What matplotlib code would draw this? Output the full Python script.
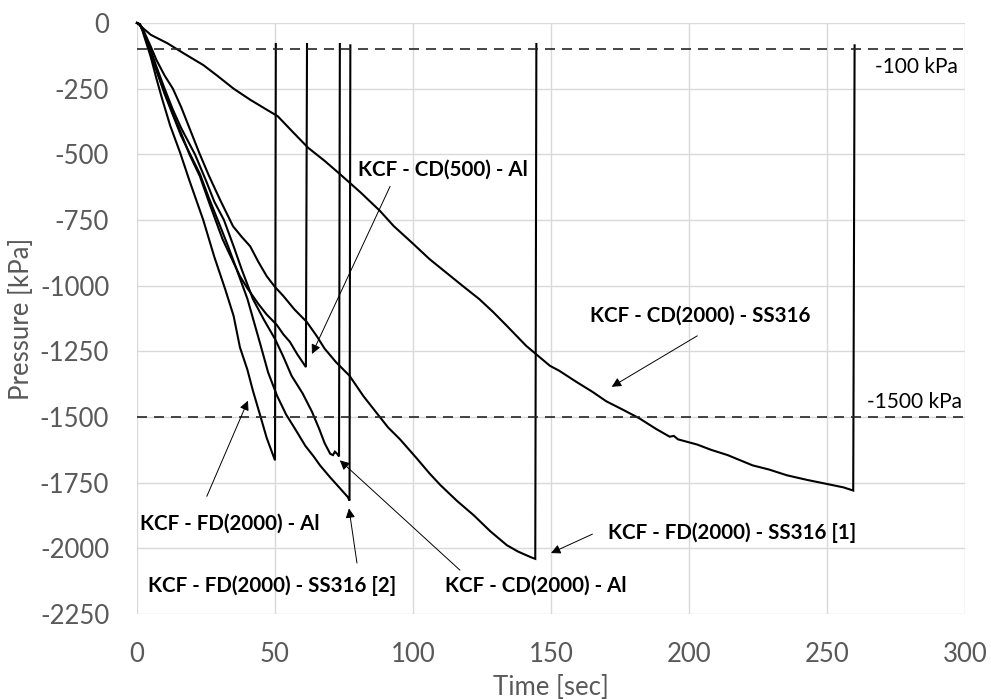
import matplotlib
matplotlib.use("Agg")
import matplotlib.pyplot as plt

# ---------------- data ----------------
t_fd_al = [0, 1, 2, 3.5, 5, 7, 9, 12, 15.6, 19, 22, 24, 28, 32, 35, 37.3, 40, 42, 44.8, 47, 50, 50.3]
p_fd_al = [0, -5, -30, -80, -130, -210, -285, -390, -493, -600, -690, -750, -890, -1015, -1115, -1235,
           -1320, -1400, -1500, -1580, -1665, -80]

t_fd_ss2 = [0, 1, 2, 3.5, 5, 7, 10, 13, 16, 19.5, 22.8, 26, 30, 33, 36, 40, 44.6, 47.5, 50.7, 54, 57.2,
            61, 64, 66.3, 70, 73, 76.4, 77, 77.3]
p_fd_ss2 = [0, -5, -25, -70, -120, -180, -270, -350, -430, -505, -575, -665, -770, -850, -935, -1050,
            -1220, -1330, -1418, -1490, -1544, -1610, -1650, -1684, -1730, -1765, -1805, -1818, -85]

t_cd2000_al = [0, 1, 2, 3.5, 5, 7, 10, 13, 16, 21, 25, 28, 31.5, 35, 38, 42, 46, 50, 53, 56, 60, 63.4,
               66, 68, 70, 71, 71.7, 72.5, 73.2, 73.5]
p_cd2000_al = [0, -5, -22, -65, -105, -165, -250, -330, -400, -500, -600, -680, -750, -850, -940, -1051,
               -1130, -1203, -1270, -1343, -1410, -1480, -1545, -1600, -1640, -1645, -1632, -1640, -1650, -80]

t_cd500_al = [0, 1, 2, 3.5, 5, 7, 10, 13, 16, 19, 22.8, 26, 31, 34, 37.3, 40, 44, 47, 50.7, 53, 55.4,
              58, 61.2, 61.6]
p_cd500_al = [0, -5, -25, -70, -115, -175, -265, -345, -420, -500, -584, -680, -823, -890, -964, -1010,
              -1070, -1110, -1150, -1185, -1214, -1260, -1310, -80]

t_fd_ss1 = [0, 1, 2, 3.5, 5, 7, 10, 13, 16, 19, 22.5, 26, 30, 34.8, 38, 41, 44, 47, 50, 53, 57, 61.5,
            65, 68, 72, 77, 82, 87, 91, 95.3, 101.4, 106, 110, 116, 122, 128, 134, 138, 141, 143,
            144.3, 144.7]
p_fd_ss1 = [0, -5, -20, -55, -90, -140, -200, -250, -320, -400, -493, -580, -671, -774, -815, -850,
            -910, -964, -1005, -1039, -1090, -1138, -1190, -1240, -1290, -1343, -1420, -1487, -1540,
            -1585, -1658, -1715, -1760, -1820, -1874, -1935, -1988, -2012, -2026, -2035, -2040, -80]

t_cd2000_ss = [0, 5, 11, 17, 24, 29, 35, 41, 47, 51, 56, 62, 68, 73.5, 81, 88, 93, 100, 106, 112, 118,
               124, 129, 134, 141, 149.6, 153, 159, 165, 170, 176, 182, 188, 193, 194.5, 196, 203, 208,
               214, 223, 229, 235.5, 243, 250, 256, 259.5, 260]
p_cd2000_ss = [0, -45, -77, -116, -160, -200, -250, -292, -330, -355, -410, -475, -525, -575, -645,
               -715, -773, -840, -899, -950, -1001, -1051, -1100, -1153, -1229, -1305, -1324, -1365,
               -1404, -1440, -1472, -1505, -1545, -1575, -1572, -1585, -1605, -1625, -1645, -1684,
               -1700, -1722, -1740, -1755, -1768, -1780, -85]

series = [
    (t_fd_al, p_fd_al),
    (t_fd_ss2, p_fd_ss2),
    (t_cd2000_al, p_cd2000_al),
    (t_cd500_al, p_cd500_al),
    (t_fd_ss1, p_fd_ss1),
    (t_cd2000_ss, p_cd2000_ss),
]

ref_levels = [-100, -1500]
ref_labels = ["-100 kPa", "-1500 kPa"]

x_ticks = [0, 50, 100, 150, 200, 250, 300]
y_ticks = [0, -250, -500, -750, -1000, -1250, -1500, -1750, -2000, -2250]

# ---------------- figure ----------------
plt.rcParams['font.family'] = ['Lato', 'DejaVu Sans']
plt.rcParams['axes.unicode_minus'] = False
fig = plt.figure(figsize=(9.91, 6.99), dpi=100)
ax = fig.add_axes([137 / 991, 1 - 614 / 699, (965 - 137) / 991, (614 - 23) / 699])

ax.set_xlim(0, 300)
ax.set_ylim(-2250, 0)
ax.set_xticks(x_ticks)
ax.set_yticks(y_ticks)
ax.grid(True, color='#d9d9d9', linewidth=1.0)
ax.set_axisbelow(True)
for s in ax.spines.values():
    s.set_visible(False)
ax.tick_params(length=0, labelsize=18.5, colors='#595959', pad=20)

for tx, py in series:
    ax.plot(tx, py, color='black', linewidth=1.5, solid_joinstyle='miter', clip_on=False)

for lvl in ref_levels:
    ax.axhline(lvl, color='#262626', linewidth=1.2, dashes=(6, 4.2))

ax.text(297.5, -167, ref_labels[0], ha='right', va='center', fontsize=15, color='black')
ax.text(299, -1442, ref_labels[1], ha='right', va='center', fontsize=15, color='black')

ax.set_xlabel("Time [sec]", fontsize=18.5, color='#595959', labelpad=6)
ax.set_ylabel("Pressure [kPa]", fontsize=18.5, color='#595959', labelpad=4)

arrow_kw = dict(arrowstyle='-|>', color='black', lw=0.7, mutation_scale=14, shrinkA=0, shrinkB=0)
annots = [
    ("KCF - CD(500) - Al", (111, -558), (91.7, -622), (63.4, -1260)),
    ("KCF - CD(2000) - SS316", (204, -1115), (203, -1191), (172, -1385)),
    ("KCF - FD(2000) - SS316 [1]", (215.6, -1942), (165, -1946), (150, -2018)),
    ("KCF - CD(2000) - Al", (144.6, -2143), (117, -2083), (73.5, -1665)),
    ("KCF - FD(2000) - SS316 [2]", (49, -2143), (79.7, -2056), (76.8, -1848)),
    ("KCF - FD(2000) - Al", (33.7, -1905), (25.3, -1802), (40.2, -1438)),
]
for txt, tpos, a0, a1 in annots:
    ax.text(tpos[0], tpos[1], txt, ha='center', va='center', fontsize=14.8,
            fontweight='bold', color='black')
    ax.annotate("", xy=a1, xytext=a0, arrowprops=arrow_kw)

fig.savefig("out.png", dpi=100)
